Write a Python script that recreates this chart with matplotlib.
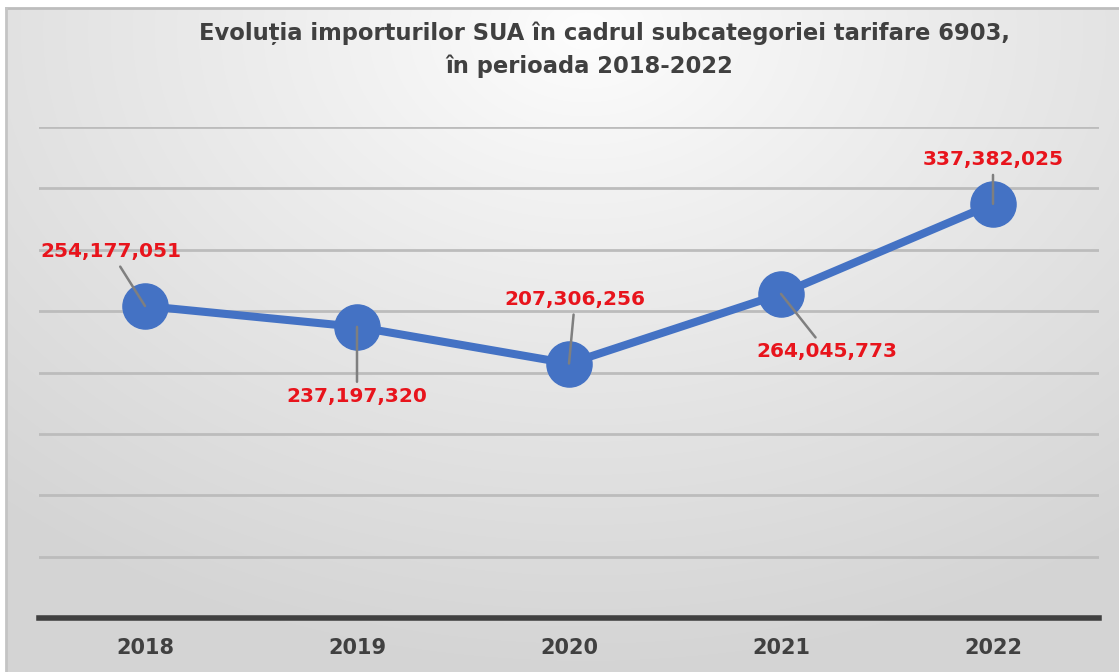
import numpy as np
import matplotlib
matplotlib.use("Agg")
import matplotlib.pyplot as plt

years = ["2018", "2019", "2020", "2021", "2022"]
values = [254177051, 237197320, 207306256, 264045773, 337382025]
labels = ["254,177,051", "237,197,320", "207,306,256", "264,045,773", "337,382,025"]
# label offsets (pixels) relative to each point
label_offsets = [(-34, 54), (0, -70), (6, 64), (46, -58), (0, 44)]

W, H = 1119, 672
fig = plt.figure(figsize=(W / 100, H / 100), dpi=100)
fig.patch.set_facecolor("white")

# background radial gradient
bg = fig.add_axes([6 / W, 0, 1 - 6 / W, 1 - 8 / H])
yy, xx = np.mgrid[0:300, 0:500]
cx, cy = 260, 10
d = np.sqrt(((xx - cx) / 520) ** 2 + ((yy - cy) / 380) ** 2)
d = np.clip(d / 0.75, 0, 1)
light = 0.995 - 0.16 * d ** 0.9
img = np.dstack([light, light, light])
bg.imshow(img, aspect="auto", extent=[0, 1, 0, 1], origin="upper", interpolation="bilinear")
bg.set_axis_off()
# border lines
fig.add_artist(plt.Line2D([6 / W, 1], [1 - 8 / H, 1 - 8 / H], color="#bdbdbd", lw=2))
fig.add_artist(plt.Line2D([6 / W, 6 / W], [0, 1 - 8 / H], color="#c4c4c4", lw=2))

ax = fig.add_axes([39 / W, (H - 618) / H, (1099 - 39) / W, (618 - 127) / H])
ax.set_facecolor("none")
x = np.arange(len(years))
ax.set_xlim(-0.5, len(years) - 0.5)
ax.set_ylim(0, 400e6)
ax.set_yticks(np.arange(50e6, 400e6 + 1, 50e6))
ax.yaxis.grid(True, color="#bcbcbc", lw=2)
ax.set_axisbelow(True)
for s in ["top", "right", "left"]:
    ax.spines[s].set_visible(False)
ax.spines["bottom"].set_color("#404040")
ax.spines["bottom"].set_linewidth(4)
ax.tick_params(axis="y", left=False, labelleft=False)
ax.tick_params(axis="x", bottom=False, pad=11)
ax.set_xticks(x)
ax.set_xticklabels(years, fontsize=15, fontweight="bold", color="#404040", family="DejaVu Sans")

ax.plot(x, values, color="#4472C4", lw=5.8, marker="o", markersize=32.5,
        markerfacecolor="#4472C4", markeredgecolor="#4472C4", zorder=3, clip_on=False)

for xi, v, lab, (dx, dy) in zip(x, values, labels, label_offsets):
    ax.annotate(lab, xy=(xi, v), xytext=(dx, dy), textcoords="offset pixels",
                ha="center", va="center", fontsize=14.5, fontweight="bold",
                color="#e8141c", family="DejaVu Sans", zorder=5,
                arrowprops=dict(arrowstyle="-", color="#7f7f7f", lw=1.8,
                                shrinkA=2, shrinkB=0))

fig.text(604 / W, 1 - 33 / H, "Evoluția importurilor SUA în cadrul subcategoriei tarifare 6903,",
         ha="center", va="center", fontsize=16.3, fontweight="bold", color="#404040", family="DejaVu Sans")
fig.text(589 / W, 1 - 66 / H, "în perioada 2018-2022",
         ha="center", va="center", fontsize=16.3, fontweight="bold", color="#404040", family="DejaVu Sans")

fig.savefig("out.png", dpi=100, facecolor=fig.get_facecolor())
